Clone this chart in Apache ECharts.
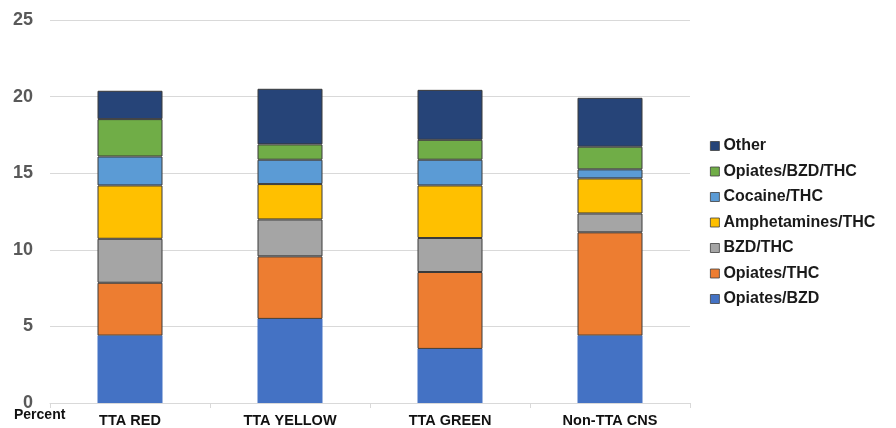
<!DOCTYPE html>
<html>
<head>
    <meta charset="utf-8">
    <title>Percent</title>
    <script src="https://cdn.jsdelivr.net/npm/echarts@6/dist/echarts.min.js"></script>
</head>
<body style="margin:0">
    <div id="main" style="width: 896px;height:428px;"></div>
    <script type="text/javascript">
        // categories and series values (percent)
        var categories = ['TTA RED', 'TTA YELLOW', 'TTA GREEN', 'Non-TTA CNS'];
        var opiatesBzd = [4.40, 5.49, 3.53, 4.40];
        var opiatesThc = [3.45, 4.08, 5.02, 6.74];
        var bzdThc = [2.87, 2.41, 2.22, 1.23];
        var amphetaminesThc = [3.48, 2.31, 3.43, 2.29];
        var cocaineThc = [1.89, 1.59, 1.68, 0.59];
        var opiatesBzdThc = [2.44, 1.00, 1.30, 1.48];
        var other = [1.85, 3.63, 3.26, 3.19];
        var yTicks = [0, 5, 10, 15, 20, 25];

        var seriesNames = ['Opiates/BZD', 'Opiates/THC', 'BZD/THC', 'Amphetamines/THC', 'Cocaine/THC', 'Opiates/BZD/THC', 'Other'];
        var seriesData = [opiatesBzd, opiatesThc, bzdThc, amphetaminesThc, cocaineThc, opiatesBzdThc, other];
        var colors = ['#4472C4', '#ED7D31', '#A5A5A5', '#FFC000', '#5B9BD5', '#70AD47', '#264478'];

        var series = [];
        for (var i = 0; i < seriesNames.length; i++) {
            series.push({
                name: seriesNames[i],
                type: 'bar',
                stack: 'total',
                barWidth: 65,
                data: seriesData[i],
                itemStyle: {
                    color: colors[i],
                    borderColor: i === 0 ? colors[i] : '#3a3a3a',
                    borderWidth: i === 0 ? 0 : 1
                }
            });
        }

        var chart = echarts.init(document.getElementById('main'));
        var option = {
            animation: false,
            textStyle: { fontFamily: 'Liberation Sans, Arial, sans-serif' },
            grid: { left: 50, right: 206, top: 20, bottom: 25 },
            legend: {
                orient: 'vertical',
                left: 705,
                top: 133,
                itemWidth: 9,
                itemHeight: 9,
                itemGap: 9.5,
                icon: 'rect',
                itemStyle: { borderWidth: 0.8, borderColor: '#404040' },
                data: seriesNames.slice().reverse(),
                textStyle: { fontSize: 16, lineHeight: 16, fontWeight: 'bold', color: '#1a1a1a', padding: [0, 0, 0, -1] }
            },
            xAxis: {
                type: 'category',
                data: categories,
                axisLine: { lineStyle: { color: '#d9d9d9' } },
                axisTick: { show: true, length: 5, lineStyle: { color: '#d9d9d9' } },
                axisLabel: { fontSize: 14.5, fontWeight: 'bold', color: '#111', margin: 10 }
            },
            yAxis: {
                type: 'value',
                min: yTicks[0],
                max: yTicks[yTicks.length - 1],
                interval: 5,
                splitLine: { lineStyle: { color: '#d9d9d9' } },
                axisLabel: { fontSize: 18, fontWeight: 'bold', color: '#595959', margin: 17 }
            },
            graphic: [{
                type: 'text',
                left: 14,
                top: 408,
                style: { text: 'Percent', font: 'bold 14px Liberation Sans, Arial', fill: '#111' }
            }],
            series: series
        };
        chart.setOption(option);
    </script>
</body>
</html>
